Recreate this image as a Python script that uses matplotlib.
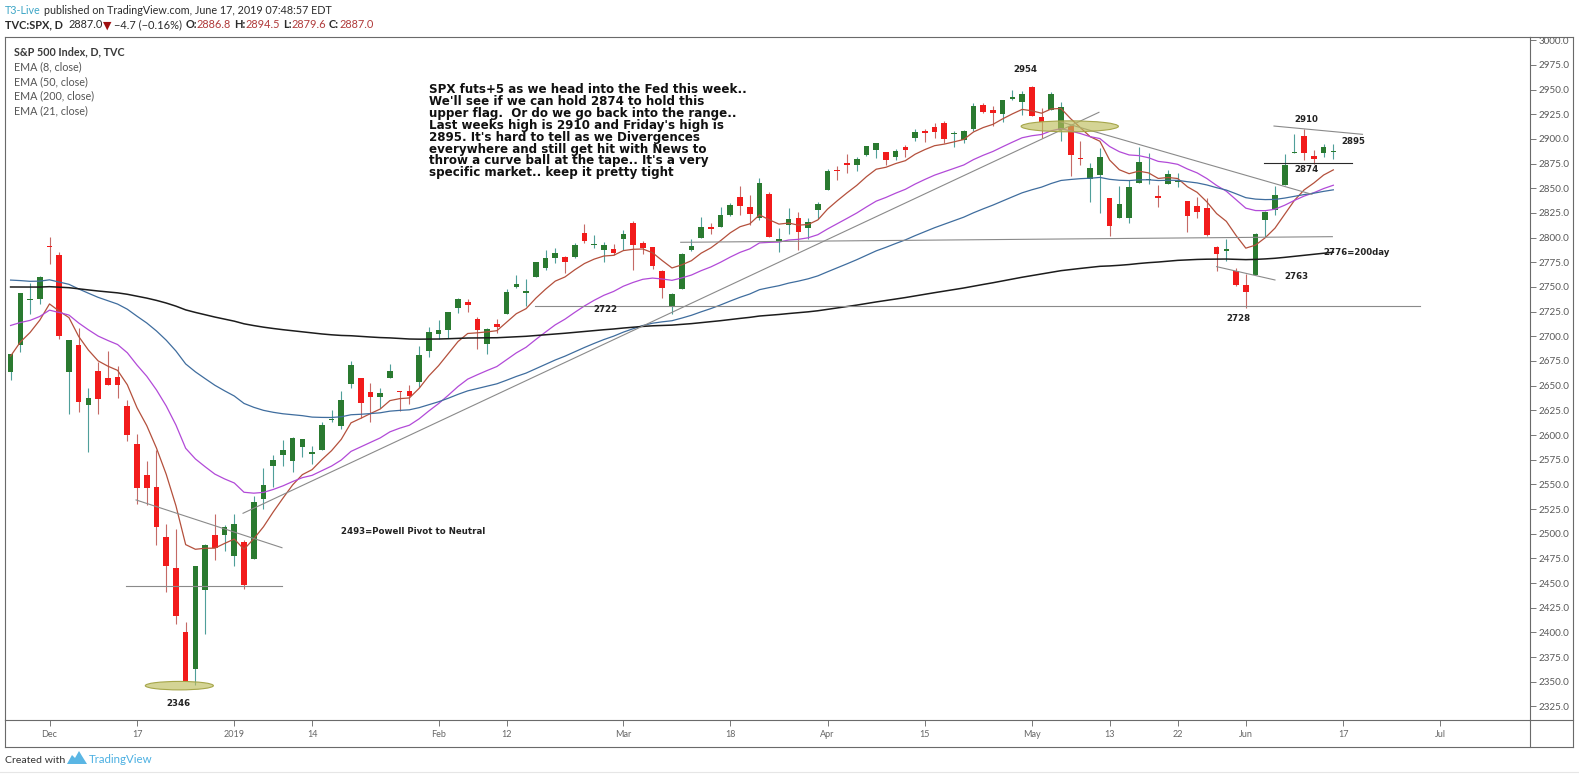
import numpy as np
import pandas as pd
import matplotlib
matplotlib.use('Agg')
import matplotlib.pyplot as plt
from matplotlib.patches import Ellipse, Polygon
from matplotlib.lines import Line2D
from matplotlib.transforms import Bbox, TransformedBbox
from matplotlib import font_manager

# ------------------------------------------------------------------ data
holidays = ['2018-12-05', '2018-12-25', '2019-01-01', '2019-01-21',
            '2019-02-18', '2019-04-19', '2019-05-27']

opens = [2663.75, 2691.45, 2736.97, 2737.76,
         2790.50, 2782.43, 2663.51, 2691.26, 2630.86, 2664.44, 2658.23, 2658.70, 2629.68, 2590.75,
         2559.90, 2547.05, 2496.77, 2465.38, 2400.56, 2363.12, 2442.50, 2498.77, 2498.94,
         2476.96, 2491.92, 2474.33, 2535.61, 2568.11, 2580.00, 2573.51, 2588.11, 2580.31, 2585.10,
         2614.75, 2609.28, 2651.27, 2657.88, 2643.48, 2638.84, 2657.44, 2644.97, 2644.89, 2653.62, 2685.49,
         2702.32, 2706.49, 2728.34, 2735.05, 2717.53, 2692.36, 2712.40, 2722.61, 2750.30, 2743.50,
         2760.24, 2769.28, 2779.05, 2780.67, 2780.67, 2804.35, 2792.36, 2787.50, 2788.11,
         2798.22, 2814.37, 2794.41, 2790.27, 2766.53, 2730.79, 2747.61, 2787.34, 2799.78, 2810.38,
         2810.79, 2822.61, 2840.76, 2831.34, 2819.72, 2844.52, 2796.01, 2812.66, 2819.72, 2809.40, 2828.27,
         2848.63, 2868.24, 2876.09, 2873.99, 2884.16, 2888.46, 2886.58, 2881.37, 2891.92, 2900.86,
         2908.32, 2912.26, 2916.04, 2904.81, 2898.78, 2909.99, 2934.00, 2928.99, 2925.81, 2940.58, 2937.14,
         2952.33, 2922.16, 2929.21, 2908.89, 2913.03, 2879.61, 2859.84, 2863.10, 2840.19, 2820.12,
         2820.38, 2855.80, 2858.60, 2841.94, 2854.02, 2856.06, 2836.70, 2832.41, 2830.03, 2790.25,
         2786.94, 2766.15,
         2751.53, 2762.64, 2818.09, 2828.51, 2852.87, 2885.83, 2903.27, 2882.73, 2886.24, 2886.82]

highs = [2682.53, 2744.00, 2753.75, 2760.88,
         2800.18, 2785.93, 2696.15, 2708.54, 2647.51, 2674.35, 2685.44, 2670.19, 2635.07, 2601.13,
         2573.99, 2585.29, 2509.63, 2504.41, 2410.34, 2467.76, 2489.10, 2520.27, 2509.24,
         2519.49, 2493.14, 2538.07, 2566.16, 2579.82, 2595.32, 2597.82, 2596.27, 2589.32, 2613.08,
         2625.76, 2645.06, 2675.47, 2657.88, 2653.19, 2647.20, 2672.38, 2644.97, 2650.93, 2690.44, 2708.95,
         2716.66, 2724.99, 2738.98, 2738.08, 2719.32, 2708.07, 2718.05, 2748.19, 2761.85, 2757.90,
         2775.66, 2787.33, 2789.88, 2781.58, 2794.20, 2813.49, 2803.12, 2795.76, 2793.73,
         2808.02, 2816.88, 2796.44, 2790.27, 2767.25, 2744.13, 2784.00, 2798.32, 2821.24, 2815.00,
         2830.73, 2835.41, 2852.42, 2843.54, 2860.31, 2846.16, 2809.79, 2829.87, 2825.56, 2819.71, 2836.03,
         2869.40, 2872.90, 2885.25, 2881.28, 2893.24, 2895.95, 2886.88, 2889.71, 2893.42, 2910.54,
         2909.60, 2916.06, 2918.00, 2908.40, 2909.51, 2936.31, 2936.83, 2933.10, 2939.88, 2949.52, 2948.22,
         2954.13, 2931.68, 2947.85, 2937.32, 2913.03, 2897.96, 2875.97, 2891.31, 2840.19, 2852.54,
         2858.68, 2892.15, 2885.48, 2853.86, 2868.88, 2865.47, 2836.70, 2841.36, 2840.51, 2792.03,
         2799.00, 2768.98,
         2763.07, 2804.49, 2827.28, 2852.10, 2884.97, 2904.77, 2910.61, 2888.57, 2895.24, 2894.45]

lows = [2655.89, 2684.38, 2722.94, 2732.76,
        2773.38, 2697.18, 2621.53, 2623.14, 2583.23, 2621.30, 2650.26, 2637.27, 2593.84, 2530.54,
        2528.71, 2488.96, 2441.18, 2408.55, 2351.10, 2346.58, 2397.94, 2472.89, 2482.82,
        2467.47, 2443.96, 2474.33, 2524.56, 2547.56, 2568.89, 2562.02, 2577.40, 2570.41, 2585.10,
        2612.68, 2606.36, 2647.58, 2617.27, 2612.86, 2627.01, 2657.33, 2624.06, 2631.05, 2648.34, 2678.65,
        2696.88, 2698.75, 2724.03, 2724.15, 2687.26, 2681.83, 2703.79, 2722.61, 2748.63, 2731.23,
        2760.24, 2767.29, 2774.06, 2764.55, 2779.11, 2794.99, 2789.47, 2775.13, 2782.51,
        2787.38, 2767.66, 2782.97, 2768.69, 2739.09, 2722.27, 2747.61, 2786.73, 2799.78, 2803.46,
        2810.79, 2821.99, 2823.27, 2812.43, 2817.38, 2800.47, 2785.02, 2803.99, 2787.72, 2798.77, 2819.23,
        2848.63, 2858.75, 2865.17, 2867.14, 2882.99, 2880.78, 2873.33, 2879.13, 2881.99, 2898.37,
        2896.48, 2900.71, 2895.45, 2891.90, 2896.35, 2908.53, 2926.05, 2912.84, 2917.56, 2939.35, 2924.11,
        2923.36, 2900.50, 2929.21, 2898.21, 2862.60, 2873.28, 2836.40, 2825.39, 2801.43, 2820.12,
        2815.08, 2855.80, 2854.23, 2831.29, 2854.02, 2851.11, 2805.49, 2820.19, 2801.58, 2766.06,
        2776.74, 2750.52,
        2728.81, 2762.64, 2800.92, 2822.45, 2852.87, 2885.51, 2878.53, 2874.68, 2881.99, 2879.62]

closes = [2682.17, 2743.79, 2737.80, 2760.17,
          2790.37, 2700.06, 2695.95, 2633.08, 2637.72, 2636.78, 2651.07, 2650.54, 2599.95, 2545.94,
          2546.16, 2506.96, 2467.42, 2416.62, 2351.10, 2467.70, 2488.83, 2485.74, 2506.85,
          2510.03, 2447.89, 2531.94, 2549.69, 2574.41, 2584.96, 2596.64, 2596.26, 2582.61, 2610.30,
          2616.10, 2635.96, 2670.71, 2632.90, 2638.70, 2642.33, 2664.76, 2643.85, 2640.00, 2681.05, 2704.10,
          2706.53, 2724.87, 2737.70, 2731.61, 2706.05, 2707.88, 2709.80, 2744.73, 2753.03, 2745.73,
          2775.60, 2779.76, 2784.70, 2774.88, 2792.67, 2796.11, 2793.90, 2792.38, 2784.49,
          2803.69, 2792.81, 2789.65, 2771.45, 2748.93, 2743.07, 2783.30, 2791.52, 2810.92, 2808.48,
          2822.48, 2832.94, 2832.57, 2824.23, 2854.88, 2800.71, 2798.36, 2818.46, 2805.37, 2815.44, 2834.40,
          2867.19, 2867.24, 2873.40, 2879.39, 2892.74, 2895.77, 2878.20, 2888.21, 2888.32, 2907.41,
          2905.58, 2907.06, 2900.45, 2905.03, 2907.97, 2933.68, 2927.25, 2926.17, 2939.88, 2943.03, 2945.83,
          2923.73, 2917.52, 2945.64, 2932.47, 2884.05, 2879.42, 2870.72, 2881.40, 2811.87, 2834.41,
          2850.96, 2876.32, 2859.53, 2840.23, 2864.36, 2856.27, 2822.24, 2826.06, 2802.39, 2783.02,
          2788.86, 2752.06,
          2744.45, 2803.27, 2826.15, 2843.49, 2873.34, 2886.73, 2885.72, 2879.84, 2891.64, 2886.98]

ema_lengths = [8, 21, 50, 200]
ema_start = [2680.0, 2711.0, 2757.0, 2750.0]      # values read at the first visible candle
ema_colors = ['#b4503c', '#b24ad8', '#3f6d9e', '#1c1c1c']
ema_widths = [0.9, 0.9, 0.9, 1.1]

tick_dates = ['2018-12-03', '2018-12-17', '2019-01-02', '2019-01-14', '2019-02-01', '2019-02-12',
              '2019-03-01', '2019-03-18', '2019-04-01', '2019-04-15', '2019-05-01', '2019-05-13',
              '2019-05-22', '2019-06-03', '2019-06-17', '2019-07-01']
tick_labels = ['Dec', '17', '2019', '14', 'Feb', '12', 'Mar', '18', 'Apr', '15', 'May', '13',
               '22', 'Jun', '17', 'Jul']
price_ticks = list(range(2325, 3001, 25))

text_block = ["SPX futs+5 as we head into the Fed this week..",
              "We'll see if we can hold 2874 to hold this",
              "upper flag.  Or do we go back into the range..",
              "Last weeks high is 2910 and Friday's high is",
              "2895. It's hard to tell as we Divergences",
              "everywhere and still get hit with News to",
              "throw a curve ball at the tape.. It's a very",
              "specific market.. keep it pretty tight"]

# ------------------------------------------------------------------ setup
W, H = 1579, 775
names = {f.name for f in font_manager.fontManager.ttflist}
NARROW = 'Liberation Sans Narrow' if 'Liberation Sans Narrow' in names else 'Lato'

dates = pd.bdate_range('2018-11-27', '2019-06-14')
dates = dates[~dates.isin(pd.to_datetime(holidays))]
all_dates = dates.append(pd.bdate_range('2019-06-17', '2019-07-05'))
xs = np.arange(len(dates))

o = np.array(opens); h = np.array(highs); l = np.array(lows); c = np.array(closes)

# pixel geometry of the reference
i_ref = all_dates.get_loc(pd.Timestamp('2018-12-03'))
PX_REF, PX_STEP = 49.5, 9.726
P_REF, PY_REF, PY_PER = 2925.0, 114.3, 0.9868
L_PX, R_PX, T_PX, B_PX = 5, 1530, 37, 720
def px2x(px):
    return i_ref + (px - PX_REF) / PX_STEP
def py2p(py):
    return P_REF - (py - PY_REF) / PY_PER

fig = plt.figure(figsize=(W / 100, H / 100), dpi=100)
fig.patch.set_facecolor('white')
ax = fig.add_axes([L_PX / W, 1 - B_PX / H, (R_PX - L_PX) / W, (B_PX - T_PX) / H])
ax.set_facecolor('white')
ax.set_xlim(px2x(L_PX), px2x(R_PX))
ax.set_ylim(py2p(B_PX), py2p(T_PX))
renderer = fig.canvas.get_renderer()

# ------------------------------------------------------------------ candles
up = c >= o
body_col = np.where(up, '#2a7a30', '#f21b1b')
wick_col = np.where(up, '#4f9f9a', '#c56a66')
ax.vlines(xs, l, h, colors=wick_col, linewidth=0.8, zorder=2)
bottoms = np.minimum(o, c)
heights = np.maximum(np.abs(c - o), 1.0)
ax.bar(xs, heights, bottom=bottoms, width=0.58, color=body_col, linewidth=0, zorder=3)

# ------------------------------------------------------------------ EMAs
for n, s0, col, lw in zip(ema_lengths, ema_start, ema_colors, ema_widths):
    a = 2.0 / (n + 1)
    e = [s0]
    for v in c[1:]:
        e.append(e[-1] + a * (v - e[-1]))
    ax.plot(xs, e, color=col, lw=lw, zorder=4)

# ------------------------------------------------------------------ drawings
grey_lines = [((23.9, 2520.7), (111.9, 2927.0)),
              ((107.9, 2917.5), (133.8, 2843.9)),
              ((68.9, 2795.3), (135.9, 2801.0)),
              ((53.9, 2731.2), (144.9, 2731.2)),
              ((11.9, 2447.0), (27.9, 2447.0)),
              ((12.9, 2534.2), (27.9, 2485.8)),
              ((124.0, 2770.6), (130.0, 2757.1)),
              ((129.9, 2913.1), (139.0, 2904.7))]
for (x1, y1), (x2, y2) in grey_lines:
    ax.plot([x1, x2], [y1, y2], color='#8a8a8a', lw=0.8, zorder=5)
ax.plot([128.9, 137.9], [2875.3, 2875.3], color='#2a2a2a', lw=0.8, zorder=5)

for (cx, cy), ew, eh in [((17.35, 2346.0), 7.0, 8.6), ((108.9, 2912.8), 10.0, 11.1)]:
    ax.add_patch(Ellipse((cx, cy), ew, eh, facecolor=(0.74, 0.74, 0.36, 0.65),
                         edgecolor='#a6a64a', lw=0.8, zorder=6))

# annotation labels
def fit_size(s, target, **kw):
    t = fig.text(0, 0, s, fontsize=10, **kw)
    w = t.get_window_extent(renderer).width
    t.remove()
    return 10.0 * target / w

lab_size = fit_size('2493=Powell Pivot to Neutral', 143, family='DejaVu Sans', fontweight='bold')
labels = [('2954', 104.3, 2970.3, 'center'), ('2910', 133.2, 2920.0, 'center'),
          ('2895', 138.1, 2897.0, 'center'), ('2874', 133.2, 2868.6, 'center'),
          ('2763', 132.2, 2760.4, 'center'), ('2728', 126.2, 2718.3, 'center'),
          ('2722', 61.2, 2726.7, 'center'), ('2346', 17.3, 2328.4, 'center'),
          ('2776=200day', 135.0, 2784.8, 'left'),
          ('2493=Powell Pivot to Neutral', 34.0, 2502.7, 'left')]
for s, x, y, ha in labels:
    ax.text(x, y, s, ha=ha, va='center', fontsize=lab_size, fontweight='bold',
            color='#222222', family='DejaVu Sans', zorder=7)

# big comment
blk = fit_size(text_block[0], 320, family='DejaVu Sans', fontweight='bold')
for i, line in enumerate(text_block):
    fig.text(429 / W, 1 - (93.0 + i * 11.9) / H, line, fontsize=blk, fontweight='bold',
             family='DejaVu Sans', color='#111111', va='baseline', ha='left')

# ------------------------------------------------------------------ axes
ax.yaxis.tick_right()
ysz = fit_size('2975.0', 31, family=NARROW)
ax.set_yticks(price_ticks)
ax.set_yticklabels([f'{v:.1f}' for v in price_ticks], family=NARROW, fontsize=ysz, color='#5a5a5a')
ax.tick_params(axis='y', direction='out', length=4, width=0.7, color='#777777', pad=2.2)
clip = TransformedBbox(Bbox([[0, 0], [1, 1 - T_PX / H]]), fig.transFigure)
for lab in ax.get_yticklabels():
    lab.set_clip_on(True)
    lab.set_clip_box(clip)
tpos = [all_dates.get_loc(pd.Timestamp(d)) for d in tick_dates]
ax.set_xticks(tpos)
xsz = fit_size('2019', 21, family=NARROW)
ax.set_xticklabels(tick_labels, family=NARROW, fontsize=xsz, color='#666666')
ax.tick_params(axis='x', direction='out', length=4, width=0.7, color='#777777', pad=3)
for sp in ax.spines.values():
    sp.set_color('#6a6a6a'); sp.set_linewidth(0.8)

def fline(x1, y1, x2, y2, col='#6a6a6a'):
    fig.add_artist(Line2D([x1 / W, x2 / W], [1 - y1 / H, 1 - y2 / H], color=col, lw=0.8))
fline(R_PX, T_PX, 1573, T_PX)
fline(R_PX, B_PX, 1573, B_PX)
fline(1573, T_PX, 1573, 747)
fline(L_PX, 747, 1573, 747)
fline(L_PX, B_PX, L_PX, 747)
fline(R_PX, B_PX, R_PX, 747)
fline(0, 772, W, 772, col='#e6e6e6')

# ------------------------------------------------------------------ header / legend / footer
def runs_width(runs, size, family):
    tot = 0
    sp_t = fig.text(0, 0, 'x x', fontsize=size, family=family)
    sp_u = fig.text(0, 0, 'xx', fontsize=size, family=family)
    sp = sp_t.get_window_extent(renderer).width - sp_u.get_window_extent(renderer).width
    sp_t.remove(); sp_u.remove()
    for s, col, wt, nsp in runs:
        t = fig.text(0, 0, s, fontsize=size, family=family, fontweight=wt)
        tot += t.get_window_extent(renderer).width + nsp * sp
        t.remove()
    return tot, sp

def draw_runs(px, py, runs, target, family):
    w10, _ = runs_width(runs, 10, family)
    size = 10 * target / w10
    _, sp = runs_width(runs, size, family)
    x = px
    for s, col, wt, nsp in runs:
        t = fig.text(x / W, 1 - py / H, s, fontsize=size, family=family, fontweight=wt,
                     color=col, va='baseline', ha='left')
        x += t.get_window_extent(renderer).width + nsp * sp
    return size

HF = [NARROW, 'DejaVu Sans']
dark, red = '#2b2b2b', '#b03a3a'
draw_runs(5, 14.5, [('T3-Live', '#3ea6c6', 'normal', 1),
                    ('published on TradingView.com, June 17, 2019 07:48:57 EDT', dark, 'normal', 0)],
          326, HF)
draw_runs(5, 28.5, [('TVC:SPX, D', dark, 'bold', 2), ('2887.0', dark, 'normal', 0),
                    ('\u25bc', '#a01010', 'normal', 1), ('\u22124.7 (\u22120.16%)', dark, 'normal', 1),
                    ('O:', dark, 'bold', 0), ('2886.8', red, 'normal', 1),
                    ('H:', dark, 'bold', 0), ('2894.5', red, 'normal', 1),
                    ('L:', dark, 'bold', 0), ('2879.6', red, 'normal', 1),
                    ('C:', dark, 'bold', 0), ('2887.0', red, 'normal', 0)], 367, HF)

lg = draw_runs(14, 55, [('S&P 500 Index, D, TVC', '#3a3a3a', 'bold', 0)], 111, HF)
for i, s in enumerate(['EMA (8, close)', 'EMA (50, close)', 'EMA (200, close)', 'EMA (21, close)']):
    fig.text(14 / W, 1 - (70 + i * 14.8) / H, s, fontsize=lg, family=HF, color='#555555',
             va='baseline', ha='left')

draw_runs(5, 763, [('Created with', '#333333', 'normal', 0)], 60, HF)
logo = [(67, 764), (72, 755), (75, 758), (79, 751), (82, 756), (87, 764)]
fig.add_artist(Polygon([(x / W, 1 - y / H) for x, y in logo], closed=True,
                       facecolor='#5ab6e4', edgecolor='none', transform=fig.transFigure))
draw_runs(89, 763, [('TradingView', '#4cb0e2', 'normal', 0)], 64, HF)

fig.savefig('out.png', dpi=100, facecolor='white')
